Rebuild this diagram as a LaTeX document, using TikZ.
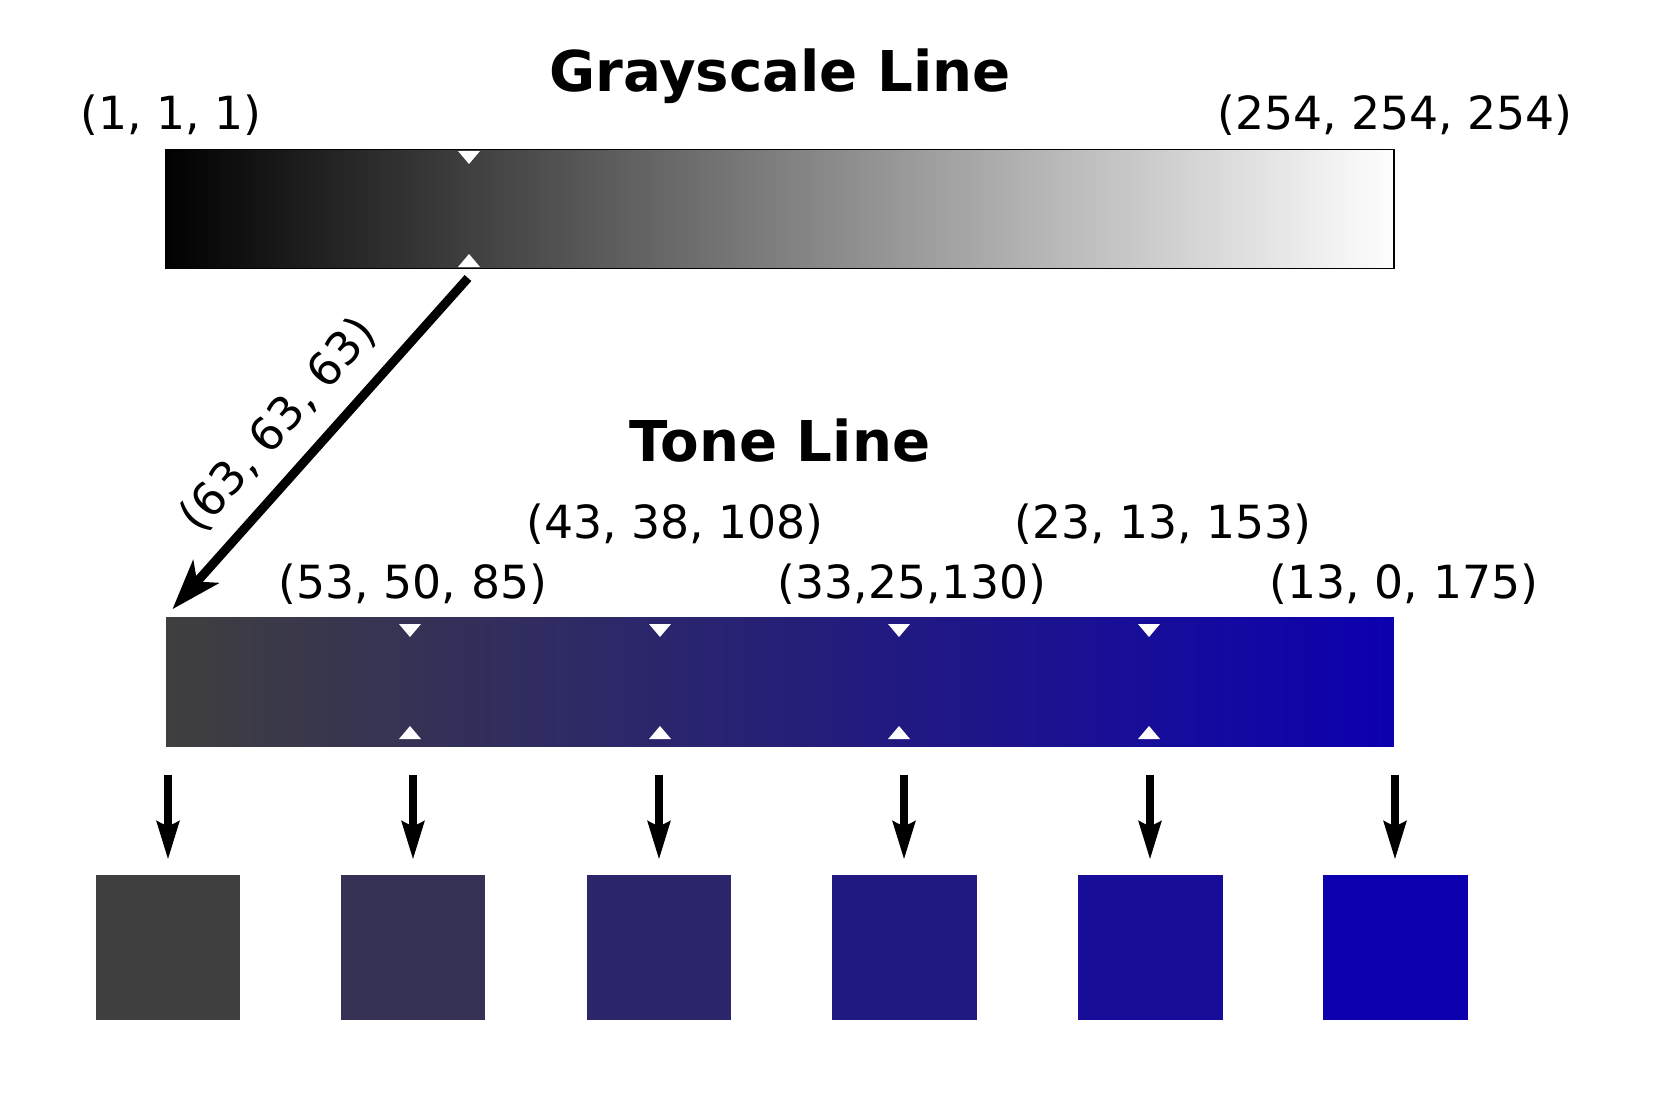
\documentclass[tikz,border=0pt]{standalone}
\usepackage{fontspec}
\setmainfont{DejaVu Sans}
\usepackage{tikz}
\usetikzlibrary{arrows.meta,positioning}
\definecolor{gray1}{RGB}{1,1,1}
\definecolor{gray254}{RGB}{254,254,254}
\definecolor{tone0}{RGB}{63,63,63}
\definecolor{tone1}{RGB}{53,50,85}
\definecolor{tone2}{RGB}{43,38,108}
\definecolor{tone3}{RGB}{33,25,130}
\definecolor{tone4}{RGB}{23,13,153}
\definecolor{tone5}{RGB}{13,0,175}
\pgfdeclarehorizontalshading{grayshade}{100bp}{color(0bp)=(gray1); color(25bp)=(gray1);
  color(75bp)=(gray254); color(100bp)=(gray254)}
\pgfdeclarehorizontalshading{toneshade}{100bp}{color(0bp)=(tone0); color(25bp)=(tone0);
  color(35bp)=(tone1); color(45bp)=(tone2); color(55bp)=(tone3); color(65bp)=(tone4);
  color(75bp)=(tone5); color(100bp)=(tone5)}
\tikzset{
  ttl/.style    ={font=\fontsize{32}{38}\selectfont\bfseries, inner sep=0pt},
  val/.style    ={font=\fontsize{26}{31}\selectfont, inner sep=0pt},
  graybar/.style={draw=black, line width=0.8pt, shade, shading=grayshade,
                  minimum width=24.56cm, minimum height=2.38cm, inner sep=0pt},
  tonebar/.style={shade, shading=toneshade,
                  minimum width=24.56cm, minimum height=2.6cm, inner sep=0pt},
  swatch/.style ={minimum size=2.9cm, inner sep=0pt},
  mk/.style     ={fill=white},
  diag/.style   ={-{Stealth[length=1cm, width=0.68cm, inset=0.26cm]},
                  line width=0.18cm, shorten >=0.2cm},
  dnarr/.style  ={-{Stealth[length=0.76cm, width=0.44cm, inset=0.1cm]},
                  line width=0.15cm, shorten <=0.56cm, shorten >=0.29cm},
}
\begin{document}
\begin{tikzpicture}[x=0.02cm, y=-0.02cm]
\useasboundingbox (0,0) rectangle (1662,1112);
\node[ttl] (gtitle) at (780,76) {Grayscale Line};
\node[val] (gmin) at (171,115) {(1, 1, 1)};
\node[val] (gmax) at (1395,115) {(254, 254, 254)};
\node[graybar] (gray) at (780,209) {};
\fill[mk] (458,151) -- (480,151) -- (469,164) -- cycle;
\fill[mk] (458,267) -- (480,267) -- (469,254) -- cycle;
\node[ttl] (ttitle) at (780,441) {Tone Line};
\node[val] (t1) at (413,584) {(53, 50, 85)};
\node[val] (t2) at (675,524) {(43, 38, 108)};
\node[val] (t3) at (912,584) {(33,25,130)};
\node[val] (t4) at (1163,524) {(23, 13, 153)};
\node[val] (t5) at (1404,584) {(13, 0, 175)};
\node[tonebar] (tone) at (780,682) {};
\foreach \mx in {410,660,899,1149}{
  \fill[mk] (\mx-11,624) -- (\mx+11,624) -- (\mx,637) -- cycle;
  \fill[mk] (\mx-11,739) -- (\mx+11,739) -- (\mx,726) -- cycle;
}
\coordinate (g63) at (468,278);
\draw[diag] (g63) -- node[val, sloped, above=0.38cm, pos=0.52] {(63, 63, 63)}
  (tone.north west);
\foreach \i/\sx in {0/168,1/413,2/659,3/904,4/1150,5/1395}{
  \node[swatch, fill=tone\i] (sq\i) at (\sx,947) {};
  \draw[dnarr] (sq\i.north |- tone.south) -- (sq\i.north);
}
\end{tikzpicture}
\end{document}
